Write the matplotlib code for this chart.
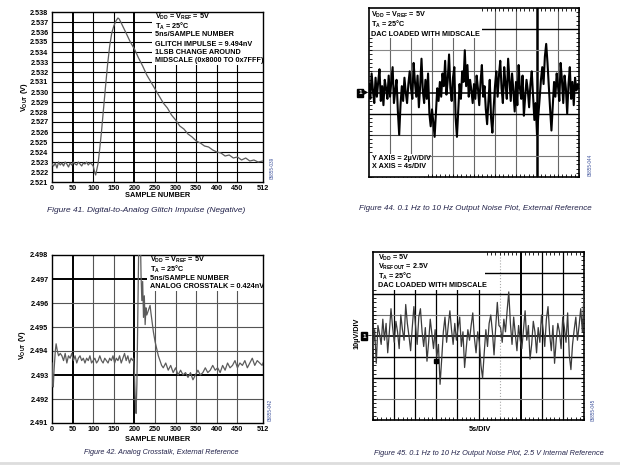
import numpy as np
import matplotlib
matplotlib.use("Agg")
import matplotlib.pyplot as plt
from matplotlib.patches import Rectangle

plt.rcParams["font.family"] = ["Liberation Sans Narrow", "Liberation Sans", "DejaVu Sans"]
plt.rcParams["mathtext.default"] = "regular"

W, H = 620, 465

# ---- Figure 41: glitch impulse (sample number, volts)
glitch_x = [0, 4, 8, 12, 16, 20, 24, 28, 32, 36, 40, 44, 48, 52, 56, 60, 64, 68, 72, 76, 80, 84, 88, 92, 96, 100,
            104, 106, 108, 112, 116, 120, 125, 130, 135, 140, 145, 150, 155, 160, 163, 168, 175, 182, 190,
            200, 210, 220, 230, 240, 250, 260, 270, 280, 290, 300, 310, 320, 330, 340, 350, 360, 370, 380,
            390, 400, 410, 420, 430, 440, 450, 460, 470, 480, 490, 500, 512]
glitch_v = [2.5228, 2.5226, 2.5229, 2.5224, 2.5230, 2.5227, 2.5229, 2.5226, 2.5230, 2.5228, 2.5225, 2.5229, 2.5227,
            2.5230, 2.5228, 2.5227, 2.5230, 2.5228, 2.5226, 2.5229, 2.5228, 2.5230, 2.5227, 2.5229, 2.5228, 2.5226,
            2.5219, 2.5217, 2.5221, 2.5229, 2.5244, 2.5260, 2.5283, 2.5306, 2.5328, 2.5346, 2.5359, 2.5366, 2.5371,
            2.5374, 2.5373, 2.5369, 2.5363, 2.5357, 2.5350,
            2.5343, 2.5334, 2.5326, 2.5317, 2.5310, 2.5303, 2.5296, 2.5289, 2.5284, 2.5277, 2.5272, 2.5266, 2.5263,
            2.5258, 2.5255, 2.5251, 2.5249, 2.5246, 2.5245,
            2.5242, 2.5240, 2.5239, 2.5236, 2.5237, 2.5234, 2.5235, 2.5232, 2.5234, 2.5231, 2.5232, 2.5230, 2.5231]
glitch_yticks = [2.521, 2.522, 2.523, 2.524, 2.525, 2.526, 2.527, 2.528, 2.529, 2.530, 2.531, 2.532, 2.533,
                 2.534, 2.535, 2.536, 2.537, 2.538]

# ---- Figure 42: analog crosstalk
xtalk_x = [0, 2, 3, 5, 8, 10, 13, 16, 20,
           24, 28, 32, 36, 40, 44, 48, 52, 56, 60, 64, 68, 72, 76, 80, 84, 88, 92, 96, 100, 104, 108, 112, 116,
           120, 124, 128, 132, 136, 140, 144, 148, 152, 156, 160, 164, 168, 172, 176, 180, 184, 188, 192, 196,
           198, 200, 202, 204, 206, 208, 210, 212, 214, 216, 218, 220, 222, 224, 226, 228, 230, 234, 238, 240,
           243, 246, 250, 254, 258, 262, 266,
           270, 276, 282, 288, 294, 300, 306, 312, 318, 324, 330, 336, 342, 348, 354, 360, 366, 372, 378, 384,
           390, 396, 402, 408, 414, 420, 426, 432, 438, 444, 450, 456, 462, 468, 474, 480, 486, 492, 498, 504,
           510, 512]
xtalk_v = [2.4935, 2.4927, 2.4925, 2.4932, 2.4940, 2.4943, 2.4940, 2.4938, 2.4939,
           2.4938, 2.4936, 2.4939, 2.4935, 2.4938, 2.4937, 2.4939, 2.4936, 2.4938, 2.4935,
           2.4937, 2.4938, 2.4936, 2.4937, 2.4935, 2.4937, 2.4936, 2.4938, 2.4935, 2.4936,
           2.4937, 2.4935, 2.4936, 2.4938, 2.4936, 2.4935, 2.4937, 2.4936, 2.4935, 2.4937,
           2.4936, 2.4938, 2.4935, 2.4937, 2.4936, 2.4938, 2.4935, 2.4937, 2.4939, 2.4936,
           2.4938, 2.4935, 2.4937, 2.4936,
           2.4937, 2.4931, 2.4920, 2.4914, 2.4926, 2.4952, 2.4978, 2.4990, 2.4994, 2.4972, 2.4961, 2.4969,
           2.4954, 2.4963, 2.4951, 2.4958, 2.4955, 2.4957, 2.4959, 2.4956, 2.4952, 2.4948, 2.4944, 2.4941,
           2.4938, 2.4936, 2.4934,
           2.4933, 2.4935, 2.4932, 2.4934, 2.4931, 2.4933, 2.4930, 2.4932, 2.4930, 2.4931,
           2.4929, 2.4931, 2.4928, 2.4930, 2.4932, 2.4930, 2.4931, 2.4933, 2.4931, 2.4932,
           2.4934, 2.4932, 2.4933, 2.4931, 2.4934, 2.4932, 2.4935, 2.4933, 2.4934, 2.4936,
           2.4933, 2.4935, 2.4934, 2.4936, 2.4933, 2.4935, 2.4937, 2.4934, 2.4936, 2.4935,
           2.4934, 2.4935]
xtalk_yticks = [2.491, 2.492, 2.493, 2.494, 2.495, 2.496, 2.497, 2.498]

sample_ticks = [0, 50, 100, 150, 200, 250, 300, 350, 400, 450, 512]

# ---- Figures 44 / 45: scope traces, in divisions
noise_ext = [0.4, -0.3, 0.9, 0.1, -0.5, 0.7, -0.2, 0.5, 1.1, -0.4, 0.3, -0.6, 0.6, 0.2, -0.3, 0.8,
             -0.2, 0.5, 1.2, -0.5, 0.1, 0.6, -0.9, -2.0, -0.6, 0.3, -0.4, 0.7, 0.0, -0.5, 0.4, 1.0,
             0.2, -0.3, 1.4, 0.5, -0.2, 0.8, -0.7, 0.3, 1.6, 0.1, -0.5, 0.6, -0.3, 0.9, -1.0, -1.6,
             -0.8, -1.4, -2.1, -0.9, 0.2, -0.4, 0.5, -0.2, 0.9, 0.3, 1.5, -0.1, 0.6, 1.8, 0.2, -0.4,
             0.7, 1.2, -1.2, -2.1, -0.8, 0.4, -0.3, 1.0, 0.5, 2.0, 0.3, 1.3, -0.2, 0.6, 0.1, -0.5,
             0.4, -0.3, 0.8, 0.2, -0.6, 0.5, 1.3, -0.2, 0.3, -0.8, -1.5, -0.4, 0.6, -1.2, -1.9, -0.7,
             0.3, 1.0, -0.2, 0.8, 1.5, 0.2, -0.5, 1.2, 0.4, -0.3, 1.6, 0.6, -0.4, 0.9, 0.1, -0.9,
             0.5, -0.6, 1.3, 0.2, -0.3, 0.8, -1.1, -0.2, 0.6, 0.1, -0.7, 0.4, 1.0, -0.2, -1.3, -0.5,
             -2.0, -1.1, -0.3, 0.6, 1.2, 0.4, 1.7, 2.3, 1.4, 0.3, -0.8, -1.8, -0.6, 0.5, -0.2, 0.9,
             0.3, -0.4, 1.4, 0.6, -0.5, 0.8, 0.2, -1.0, 0.4, 1.2, -0.3, 0.5, -0.6, 0.7, 0.1, 0.4, 0.2]
noise_int = [-0.6, 0.3, -1.3, 0.5, 0.1, -0.4, 0.8, -0.2, 0.6, -0.8, 0.2, 1.3, 0.4,
             -0.3, 0.7, 0.2, -0.6, 1.0, 0.3, -0.2, 1.5, 0.6, 0.0, -0.7, 0.4, 1.4,
             0.5, -0.4, 0.9, 1.3, 0.2, -0.5, 0.4, -1.2, -0.3, 0.8, 0.1, -0.6, 0.3,
             -1.0, -0.4, -2.3, -1.1, 0.2, 0.9, -0.3, 0.5, 1.2, 0.3, -0.4, 0.6, -0.2,
             0.4, 0.9, -0.5, 0.2, -1.5, -0.6, 0.3, -0.2, 0.5, 1.1, -0.1, -0.8, 0.2,
             -0.3, -1.4, -2.0, -0.8, 0.3, -0.5, 0.6, 1.0, 0.2, -0.9, 0.4, 1.6, 0.5,
             0.4, -0.3, 0.8, 0.2, 1.2, 2.1, 0.6, -0.4, 0.9, 0.1, -0.7, 0.5, -0.2,
             -0.6, 0.3, 1.2, -0.2, 0.5, -1.1, -0.4, 0.7, 0.2, -0.8, 0.4, -0.3, 1.0,
             0.3, -0.5, 0.8, 1.4, 0.1, -0.7, 0.5, -1.3, -0.2, 0.6, 0.2, -0.6, 0.9,
             0.4, -0.3, 1.1, -0.9, -1.6, -0.4, 0.3, 0.9, -0.2, 0.5, 1.3, 0.2, 2.0]

CAPTION_C = "#22224a"
TXT = dict(fontsize=5.2, fontweight="bold", ha="left", va="center")
LBL = dict(fontsize=5.3, fontweight="bold", ha="center", va="center")
CODE = dict(fontsize=3.3, color="#3a4f9a", rotation=90, ha="center", va="center")

fig = plt.figure(figsize=(W / 100, H / 100), dpi=100)
fig.patch.set_facecolor("white")


def px(x, y):
    return x / W, 1 - y / H


def axes_px(left, top, right, bottom):
    return fig.add_axes([left / W, 1 - bottom / H, (right - left) / W, (bottom - top) / H])


def caption(x, y, text, size):
    fig.text(*px(x, y), text, fontsize=size, style="italic", color=CAPTION_C, ha="center", va="center")


def sample_plot(ax, xs, vs, yticks, thick_x, thick_y, grey_grid, box):
    ax.plot(xs, vs, color="#5c5c5c", lw=0.9, zorder=3)
    ax.set_xlim(0, 512)
    ax.set_ylim(yticks[0], yticks[-1])
    ax.set_xticks(sample_ticks)
    ax.set_yticks(yticks)
    ax.set_yticklabels([f"{v:.3f}" for v in yticks])
    ax.tick_params(length=0, labelsize=5.2, pad=2.5)
    for lbl in ax.get_xticklabels() + ax.get_yticklabels():
        lbl.set_fontweight("bold")
    for v in sample_ticks[1:-1]:
        thick = v in thick_x
        ax.axvline(v, color="k" if thick or not grey_grid else "#555555", lw=1.4 if thick else 0.8, zorder=1)
    for v in yticks[1:-1]:
        thick = v in thick_y
        ax.axhline(v, color="k" if thick or not grey_grid else "#555555", lw=1.4 if thick else 0.8, zorder=1)
    # white label area hides the grid under the annotation
    ax.add_patch(Rectangle((box[0], box[1]), 512 - box[0], yticks[-1] - box[1],
                           facecolor="white", edgecolor="none", zorder=2))
    for s in ax.spines.values():
        s.set_linewidth(1.0)


def scope_plot(ax, trace, color, lw, vgrid, hgrid, boxes):
    xs = np.linspace(0, 10, len(trace))
    ax.plot(xs, trace, color=color, lw=lw, zorder=3)
    ax.set_xlim(0, 10)
    ax.set_ylim(-4, 4)
    ax.set_xticks([])
    ax.set_yticks([])
    ax.set_xticks(np.arange(0, 10.01, 0.2), minor=True)
    ax.set_yticks(np.arange(-4, 4.01, 0.2), minor=True)
    ax.tick_params(which="minor", direction="in", length=2.5, width=0.6,
                   top=True, right=True, labelbottom=False, labelleft=False)
    for i, (c, w, ls) in enumerate(vgrid, start=1):
        ax.axvline(i, color=c, lw=w, ls=ls, zorder=1)
    for v, (c, w) in zip([3, 2, 1, 0, -1, -2, -3], hgrid):
        ax.axhline(v, color=c, lw=w, zorder=1)
    for (x0, y0, x1, y1) in boxes:
        ax.add_patch(Rectangle((x0, y0), x1 - x0, y1 - y0, facecolor="white", edgecolor="none", zorder=2))
    for s in ax.spines.values():
        s.set_linewidth(1.2)


# ---------- Figure 41
ax1 = axes_px(52, 12, 263, 182)
sample_plot(ax1, glitch_x, glitch_v, glitch_yticks, (50, 200), (), False, (243, 2.5327))
lines41 = [r"V$_{DD}$ = V$_{REF}$ = 5V", r"T$_A$ = 25°C", "5ns/SAMPLE NUMBER",
           "GLITCH IMPULSE = 9.494nV", "1LSB CHANGE AROUND", "MIDSCALE (0x8000 TO 0x7FFF)"]
for t, y in zip(lines41, [16.5, 26, 35, 44, 52.5, 61]):
    fig.text(*px(155, y), t, **TXT)
fig.text(*px(158, 195), "SAMPLE NUMBER", **LBL)
fig.text(*px(24, 97), r"V$_{OUT}$ (V)", rotation=90, **LBL)
fig.text(*px(272, 168), "05855-039", **CODE)
caption(146, 210, "Figure 41. Digital-to-Analog Glitch Impulse (Negative)", 6.0)

# ---------- Figure 42
ax3 = axes_px(52, 255, 263, 423)
sample_plot(ax3, xtalk_x, xtalk_v, xtalk_yticks, (50, 200), (2.497, 2.493), True, (230, 2.4965))
lines42 = [r"V$_{DD}$ = V$_{REF}$ = 5V", r"T$_A$ = 25°C", "5ns/SAMPLE NUMBER", "ANALOG CROSSTALK = 0.424nV"]
for t, y in zip(lines42, [260, 269.5, 278.5, 287]):
    fig.text(*px(150, y), t, **TXT)
fig.text(*px(158, 439), "SAMPLE NUMBER", **LBL)
fig.text(*px(22, 345), r"V$_{OUT}$ (V)", rotation=90, **LBL)
fig.text(*px(270, 410), "05855-042", **CODE)
caption(161, 452, "Figure 42. Analog Crosstalk, External Reference", 5.2)

# ---------- Figure 44
ax2 = axes_px(369, 8, 579, 177)
grid44_v = [("#666666", 0.8, "-")] * 7 + [("k", 1.8, "-"), ("#666666", 0.8, "-")]
grid44_h = [("k", 1.0), ("#888888", 0.8), ("#666666", 0.8), ("k", 1.1), ("k", 1.0), ("#444444", 0.8), ("#777777", 0.8)]
scope_plot(ax2, noise_ext, "k", 1.5, grid44_v, grid44_h, [(0, 2.6, 5.4, 4), (0, -4, 2.8, -2.9)])
for t, y in zip([r"V$_{DD}$ = V$_{REF}$ = 5V", r"T$_A$ = 25°C", "DAC LOADED WITH MIDSCALE"], [15, 24.5, 34]):
    fig.text(*px(371, y), t, **TXT)
for t, y in zip(["Y AXIS = 2µV/DIV", "X AXIS = 4s/DIV"], [158, 167]):
    fig.text(*px(372, y), t, **TXT)
fig.text(*px(360, 93), "1", fontsize=4.5, fontweight="bold", color="white", ha="center", va="center",
         bbox=dict(boxstyle="square,pad=0.25", fc="k", ec="k"))
fig.text(*px(366, 93), "▶", fontsize=4, family="DejaVu Sans", ha="center", va="center")
fig.text(*px(590, 165), "05855-044", **CODE)
caption(475, 209, "Figure 44. 0.1 Hz to 10 Hz Output Noise Plot, External Reference", 5.8)

# ---------- Figure 45
ax4 = axes_px(373, 252, 584, 420)
grid45_v = [("k", 0.9, "-")] * 5 + [("#aaaaaa", 0.8, ":"), ("k", 1.4, "-"), ("k", 0.9, "-"), ("k", 0.9, "-")]
grid45_h = [("k", 1.0), ("k", 1.0), ("#777777", 0.8), ("k", 1.2), ("k", 1.0), ("k", 1.0), ("#777777", 0.8)]
scope_plot(ax4, noise_int, "#3a3a3a", 0.9, grid45_v, grid45_h, [(0, 2.2, 5.3, 4)])
trigger_mark = (3.0, -1.2)
ax4.plot(*trigger_mark, "s", color="k", ms=3.5, zorder=4)
for t, y in zip([r"V$_{DD}$ = 5V", r"V$_{REFOUT}$ = 2.5V", r"T$_A$ = 25°C", "DAC LOADED WITH MIDSCALE"],
                [257.5, 266.5, 276.5, 285.5]):
    fig.text(*px(378, y), t, **TXT)
fig.text(*px(480, 429), "5s/DIV", **LBL)
fig.text(*px(357, 333), "10µV/DIV", rotation=90, **LBL)
fig.text(*px(364, 336), "1", fontsize=4.5, fontweight="bold", color="white", ha="center", va="center",
         bbox=dict(boxstyle="square,pad=0.25", fc="k", ec="k"))
fig.text(*px(370, 336), "–", fontsize=5, fontweight="bold", ha="center", va="center")
fig.text(*px(593, 410), "05855-045", **CODE)
caption(489, 453, "Figure 45. 0.1 Hz to 10 Hz Output Noise Plot, 2.5 V Internal Reference", 5.3)

# page edge strip at the bottom
fig.add_artist(plt.Line2D([0, 1], [1 - 463 / H, 1 - 463 / H], color="#dddddd", lw=2, transform=fig.transFigure))

fig.savefig("out.png", dpi=100)
